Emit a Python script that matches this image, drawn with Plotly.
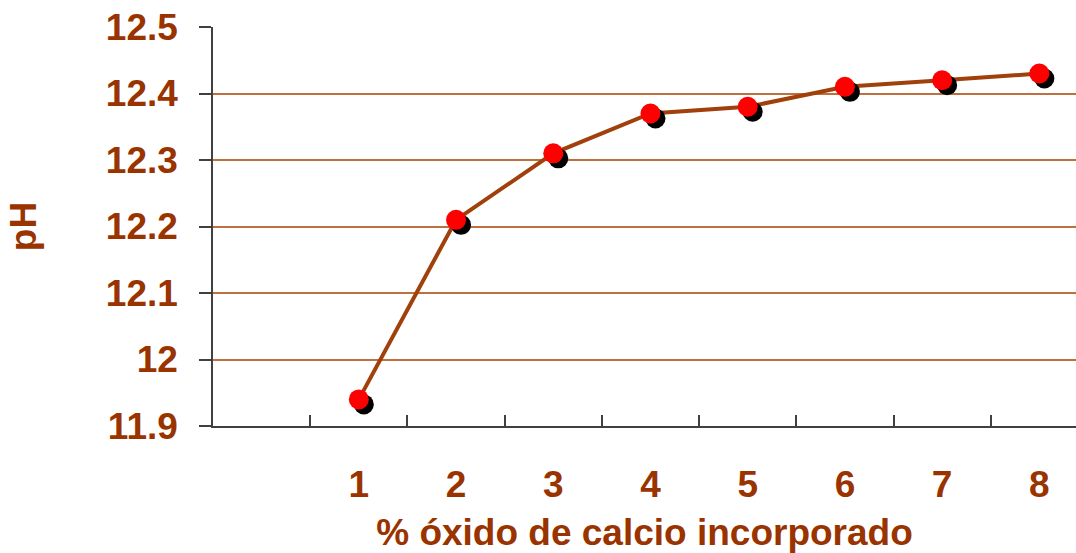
import plotly.graph_objects as go

# % of calcium oxide incorporated vs. measured pH
categories = ["1", "2", "3", "4", "5", "6", "7", "8"]
ph_values = [11.94, 12.21, 12.31, 12.37, 12.38, 12.41, 12.42, 12.43]
y_ticks = [11.9, 12.0, 12.1, 12.2, 12.3, 12.4, 12.5]
y_tick_text = ["11.9", "12", "12.1", "12.2", "12.3", "12.4", "12.5"]

W, H = 1076, 553
M_L, M_R, M_T, M_B = 212.5, 0, 26.5, 126.5
plot_w = W - M_L - M_R
plot_h = H - M_T - M_B

x_range = [-1.5, 7.377]
y_range = [11.9, 12.5]
px_per_cat = plot_w / (x_range[1] - x_range[0])
px_per_unit = plot_h / (y_range[1] - y_range[0])

# drop shadow offset in pixels, converted to data units
sdx, sdy = 5, 5
x_range_sh = [x_range[0] - sdx / px_per_cat, x_range[1] - sdx / px_per_cat]
y_range_sh = [y_range[0] + sdy / px_per_unit, y_range[1] + sdy / px_per_unit]

BROWN = "#993300"
FONT = "Liberation Sans, Arial, sans-serif"
AXIS = "#404040"

fig = go.Figure()

fig.add_trace(go.Scatter(
    x=categories, y=ph_values, mode="lines",
    line=dict(color="#A0400A", width=4),
    xaxis="x", yaxis="y", hoverinfo="skip", showlegend=False,
))
fig.add_trace(go.Scatter(
    x=categories, y=ph_values, mode="markers",
    marker=dict(color="black", size=20, line=dict(width=0)),
    xaxis="x2", yaxis="y2", hoverinfo="skip", showlegend=False,
))
fig.add_trace(go.Scatter(
    x=categories, y=ph_values, mode="markers",
    marker=dict(color="#FF0000", size=20, line=dict(width=0)),
    xaxis="x3", yaxis="y3", showlegend=False,
))

fig.update_layout(
    width=W, height=H,
    margin=dict(l=M_L, r=M_R, t=M_T, b=M_B, pad=0, autoexpand=False),
    paper_bgcolor="white", plot_bgcolor="white",
    font=dict(family=FONT, color=BROWN),
    xaxis=dict(
        type="category", categoryorder="array", categoryarray=categories,
        range=x_range, tickson="boundaries", automargin=False,
        ticks="inside", ticklen=11, tickwidth=1.5, tickcolor=AXIS,
        showline=True, linecolor=AXIS, linewidth=1.5,
        showgrid=False, zeroline=False,
        tickfont=dict(size=37, family=FONT, color=BROWN, weight="bold"),
        ticklabelstandoff=25,
        title=dict(text="% óxido de calcio incorporado",
                   font=dict(size=37, family=FONT, color=BROWN, weight="bold"),
                   standoff=27),
    ),
    yaxis=dict(
        range=y_range, tickmode="array", tickvals=y_ticks, ticktext=y_tick_text,
        automargin=False,
        ticks="outside", ticklen=12, tickwidth=1.5, tickcolor=AXIS,
        showline=True, linecolor=AXIS, linewidth=1.5,
        showgrid=True, gridcolor="#C0703F", gridwidth=1.5, zeroline=False,
        tickfont=dict(size=37, family=FONT, color=BROWN, weight="bold"),
        ticklabelstandoff=14,
        title=dict(text="pH",
                   font=dict(size=37, family=FONT, color=BROWN, weight="bold"),
                   standoff=58),
    ),
    xaxis2=dict(type="category", categoryorder="array", categoryarray=categories,
                range=x_range_sh, overlaying="x", visible=False),
    yaxis2=dict(range=y_range_sh, overlaying="y", visible=False),
    xaxis3=dict(type="category", categoryorder="array", categoryarray=categories,
                range=x_range, overlaying="x", visible=False),
    yaxis3=dict(range=y_range, overlaying="y", visible=False),
)

fig.write_html("out.html")
